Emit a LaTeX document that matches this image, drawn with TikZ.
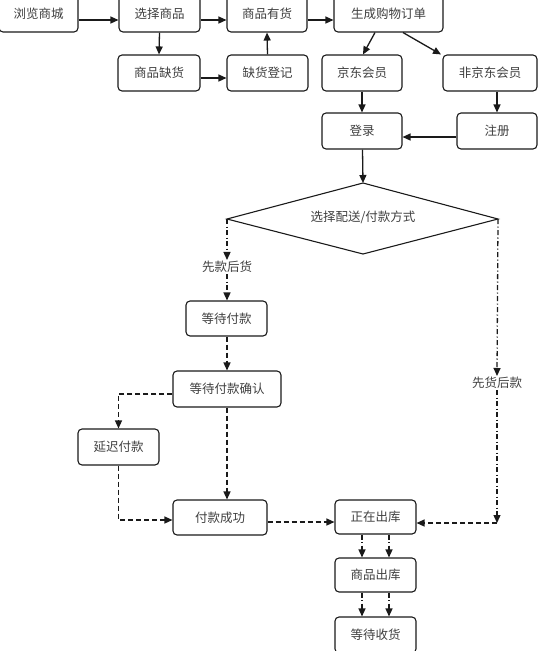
\documentclass[tikz,border=0pt]{standalone}
\usepackage{fontspec}
\newfontfamily\cjk{Noto Sans CJK SC}
\usetikzlibrary{arrows.meta,calc}
\definecolor{txt}{HTML}{404040}
\definecolor{ln}{HTML}{1A1A1A}
\tikzset{
  box/.style={draw=ln,line width=1.1pt,rounded corners=4pt,fill=white,inner sep=0pt,
    minimum height=36pt,text=txt,font=\cjk\fontsize{12.5}{14}\selectfont},
  lbl/.style={inner sep=1pt,text=txt,font=\cjk\fontsize{12.5}{14}\selectfont},
  arr/.style={draw=ln,line width=1.3pt,-{Triangle[length=8pt,width=7pt]}},
  dsh/.style={arr,dash pattern=on 5pt off 3pt},
  ddot/.style={arr,dash pattern=on 5pt off 2.5pt on 1pt off 2.5pt},
}
\begin{document}
\begin{tikzpicture}[x=1pt,y=-1pt]
\useasboundingbox (0,0) rectangle (538,651);
% top row
\node[box,minimum width=79pt] (b1) at (38.5,14) {浏览商城};
\node[box,minimum width=81pt] (b2) at (159.5,14) {选择商品};
\node[box,minimum width=80pt] (b3) at (267,14) {商品有货};
\node[box,minimum width=109pt] (b4) at (388.5,14) {生成购物订单};
% second row
\node[box,minimum width=82pt] (b5) at (159,73) {商品缺货};
\node[box,minimum width=81pt] (b6) at (267.5,73) {缺货登记};
\node[box,minimum width=80pt] (b7) at (362,73) {京东会员};
\node[box,minimum width=94pt] (b8) at (490,73) {非京东会员};
% third row
\node[box,minimum width=80pt] (b9) at (362,131) {登录};
\node[box,minimum width=80pt] (b10) at (497,131) {注册};
% diamond
\coordinate (dt) at (363,183);
\coordinate (dl) at (227,219);
\coordinate (dr) at (498,219);
\coordinate (db) at (363,254);
\draw[ln,line width=1.1pt] (dt) -- (dr) -- (db) -- (dl) -- cycle;
\node[lbl] (d) at (363,217) {选择配送/付款方式};
% left branch
\node[lbl] (l1) at (227,267) {先款后货};
\node[box,minimum width=81pt,minimum height=35pt] (w1) at (226.5,318.5) {等待付款};
\node[box,minimum width=108pt] (w2) at (227,389) {等待付款确认};
\node[box,minimum width=81pt] (w3) at (118.5,447) {延迟付款};
\node[box,minimum width=94pt,minimum height=35pt] (w4) at (220,517.5) {付款成功};
% right branch
\node[lbl] (l2) at (497,383) {先货后款};
\coordinate (rc) at (497,523);
% bottom
\node[box,minimum width=81pt,minimum height=34pt] (c1) at (375.5,517) {正在出库};
\node[box,minimum width=81pt,minimum height=34pt] (c2) at (375.5,575) {商品出库};
\node[box,minimum width=81pt] (c3) at (375.5,635) {等待收货};

% connectors, top
\draw[arr] ([yshift=-6pt]b1.east) -- ([yshift=-6pt]b2.west);
\draw[arr] ([yshift=-6pt]b2.east) -- ([yshift=-6pt]b3.west);
\draw[arr] ([yshift=-6pt]b3.east) -- ([yshift=-6pt]b4.west);
\draw[arr] (b2.south) -- (b5.north);
\draw[arr] ([yshift=-5pt]b5.east) -- ([yshift=-5pt]b6.west);
\draw[arr] (b6.north) -- (b3.south);
\draw[arr] ([xshift=-13.5pt]b4.south) -- ([xshift=1pt]b7.north);
\draw[arr] ([xshift=14.5pt]b4.south) -- ([xshift=-49pt]b8.north);
\draw[arr] (b7.south) -- (b9.north);
\draw[arr] (b8.south -| b10.north) -- (b10.north);
\draw[arr] ([yshift=-6pt]b10.west) -- ([yshift=-6pt]b9.east);
\draw[arr] ([xshift=0.5pt]b9.south) -- (dt);
% left branch
\draw[ddot] (dl) -- (l1.north);
\draw[ddot] (l1.south) -- (w1.north -| l1.south);
\draw[dsh] (w1.south -| w2.north) -- (w2.north);
\draw[dsh] ([yshift=-5pt]w2.west) -| (w3.north);
\draw[dsh] (w2.south) -- (w2.south |- w4.north);
\draw[dsh] (w3.south) |- ([yshift=-2.5pt]w4.west);
\draw[dsh] ([yshift=-4.5pt]w4.east) -- ([yshift=-4.5pt]w4.east -| c1.west);
% right branch
\draw[ddot] (dr) -- (l2.north);
\draw[ddot] (l2.south) -- (rc);
\draw[dsh] (rc) -- (rc -| c1.east);
% bottom
\draw[ddot] ([xshift=-13.5pt]c1.south) -- ([xshift=-13.5pt]c2.north);
\draw[ddot] ([xshift=13.5pt]c1.south) -- ([xshift=13.5pt]c2.north);
\draw[ddot] ([xshift=-13.5pt]c2.south) -- ([xshift=-13.5pt]c3.north);
\draw[ddot] ([xshift=13.5pt]c2.south) -- ([xshift=13.5pt]c3.north);
\end{tikzpicture}
\end{document}
